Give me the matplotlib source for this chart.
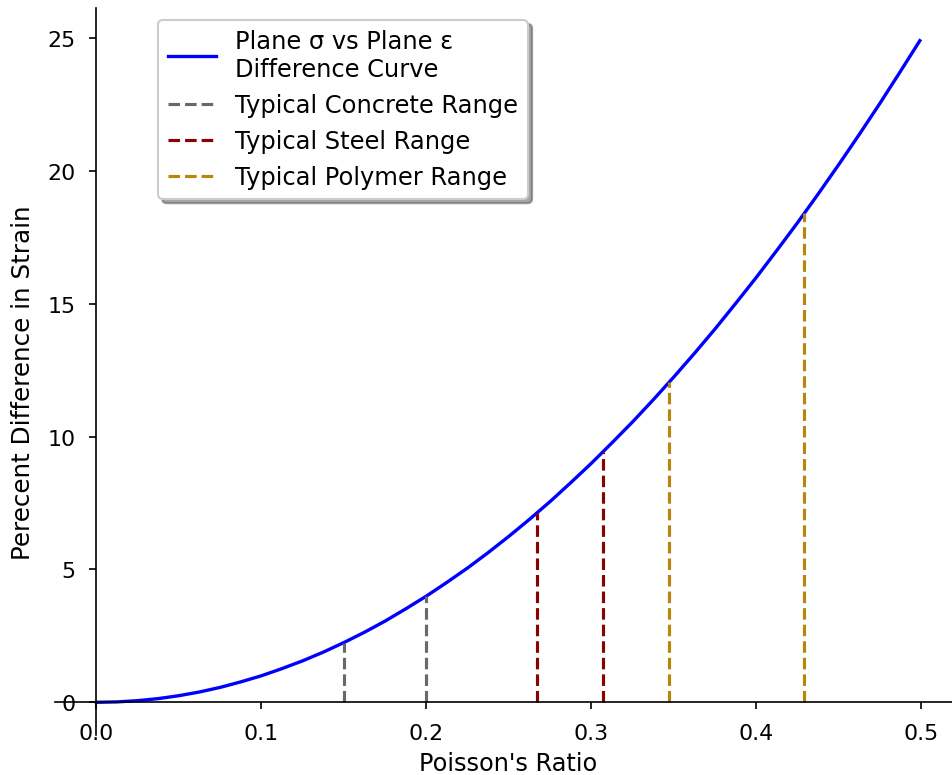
import matplotlib
matplotlib.use("Agg")
import matplotlib.pyplot as plt

# Curve values
poisson_ratio = [0.0, 0.0125, 0.025, 0.0375, 0.05, 0.0625, 0.075, 0.0875, 0.1, 0.1125,
                 0.125, 0.1375, 0.15, 0.1625, 0.175, 0.1875, 0.2, 0.2125, 0.225, 0.2375,
                 0.25, 0.2625, 0.275, 0.2875, 0.3, 0.3125, 0.325, 0.3375, 0.35, 0.3625,
                 0.375, 0.3875, 0.4, 0.4125, 0.425, 0.4375, 0.45, 0.4625, 0.475, 0.4875,
                 0.499]
percent_diff = [0.0, 0.016, 0.0625, 0.14, 0.25, 0.39, 0.5625, 0.77, 1.0, 1.27,
                1.5625, 1.89, 2.25, 2.64, 3.06, 3.52, 4.0, 4.52, 5.06, 5.64,
                6.25, 6.89, 7.56, 8.27, 9.0, 9.77, 10.56, 11.39, 12.25, 13.14,
                14.06, 15.02, 16.0, 17.02, 18.06, 19.14, 20.25, 21.39, 22.56, 23.77,
                24.9]

# Material ranges (x positions and curve heights)
concrete_x = [0.15, 0.20]
concrete_y = [2.25, 4.0]
steel_x = [0.267, 0.307]
steel_y = [7.13, 9.42]
polymer_x = [0.347, 0.429]
polymer_y = [12.04, 18.4]

W, H = 952, 776
fig = plt.figure(figsize=(W / 150, H / 150), dpi=150)
ax = fig.add_axes([55.3 / W, (H - 736.4) / H, 905.7 / W, (736.4 - 8.6) / H])

ax.plot(poisson_ratio, percent_diff, color="blue", lw=1.6,
        label="Plane σ vs Plane ε\nDifference Curve")

ranges = [
    (concrete_x, concrete_y, "dimgray", "Typical Concrete Range"),
    (steel_x, steel_y, "darkred", "Typical Steel Range"),
    (polymer_x, polymer_y, "darkgoldenrod", "Typical Polymer Range"),
]
for xs, ys, col, lab in ranges:
    for i, (x, y) in enumerate(zip(xs, ys)):
        ax.plot([x, x], [0, y], linestyle="--", color=col, lw=1.5,
                label=lab if i == 0 else None)

ax.spines["left"].set_position("zero")
ax.spines["bottom"].set_position("zero")
ax.spines["top"].set_visible(False)
ax.spines["right"].set_visible(False)

ax.set_xlabel("Poisson's Ratio", fontsize=11.5)
ax.set_ylabel("Perecent Difference in Strain", fontsize=11.8, labelpad=6)
ax.yaxis.label.set_y(0.486)
ax.set_xticks([0.0, 0.1, 0.2, 0.3, 0.4, 0.5])
ax.set_yticks([0, 5, 10, 15, 20, 25])
ax.tick_params(labelsize=10.6, pad=6.5)

ax.legend(loc="upper left", bbox_to_anchor=(0.1, 1.0), shadow=True, fontsize=11.6)

fig.savefig("out.png", dpi=150)
